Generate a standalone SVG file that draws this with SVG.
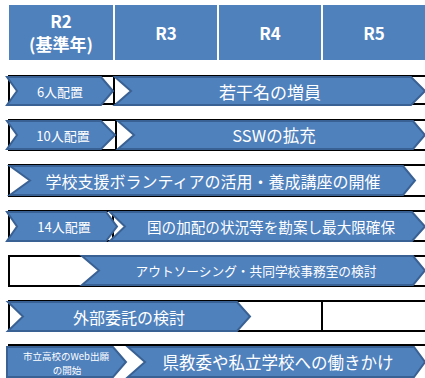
<svg xmlns="http://www.w3.org/2000/svg" width="425" height="378" viewBox="0 0 425 378">
<style>
.hd{fill:#4f81bd}
.ht{fill:#fff;font-family:"Noto Sans CJK JP","Liberation Sans",sans-serif;font-weight:bold;font-size:17px;text-anchor:middle}
.box{fill:#fff;stroke:#000;stroke-width:2}
.ch{fill:#4f81bd;stroke:#3a6193;stroke-width:2;stroke-linejoin:miter}
.t{fill:#fff;font-family:"Noto Sans CJK JP","Liberation Sans",sans-serif;text-anchor:middle;dominant-baseline:central}
.s{font-size:13px}
</style>
<rect width="425" height="378" fill="#fff"/>
<g id="header">
<rect class="hd" x="9" y="5" width="104" height="55"/>
<rect class="hd" x="115" y="5" width="102" height="55"/>
<rect class="hd" x="219" y="5" width="102" height="55"/>
<rect class="hd" x="323" y="5" width="102" height="55"/>
<text class="ht" x="61" y="28">R2</text>
<text class="ht" x="61" y="51">(基準年)</text>
<text class="ht" x="166" y="40">R3</text>
<text class="ht" x="270" y="40">R4</text>
<text class="ht" x="374" y="40">R5</text>
</g>
<g id="grid">
<rect class="box" x="9" y="76" width="105" height="28"/>
<rect class="box" x="114" y="76" width="313" height="28"/>
<rect class="box" x="9" y="120" width="107" height="30"/>
<rect class="box" x="116" y="120" width="311" height="30"/>
<rect class="box" x="9" y="165" width="418" height="31"/>
<rect class="box" x="9" y="211" width="104" height="30"/>
<rect class="box" x="113" y="211" width="314" height="30"/>
<rect class="box" x="9" y="256" width="418" height="30"/>
<rect class="box" x="9" y="301" width="313" height="30"/>
<rect class="box" x="322" y="301" width="105" height="30"/>
<rect class="box" x="9" y="345" width="418" height="40"/>
</g>
<g id="connectors"></g>
<g id="n1a"><path class="ch" d="M7,77 L101,77 L113,91 L101,105 L7,105 L17,91 Z"/><text class="t s" x="60" y="91">6人配置</text></g>
<g id="n1b"><path class="ch" d="M115,77 L411,77 L425,91 L411,105 L115,105 L131,91 Z"/><text class="t" x="270" y="91" font-size="17">若干名の増員</text></g>
<g id="n2a"><path class="ch" d="M7,121 L101,121 L115,135 L101,149 L7,149 L17,135 Z"/><text class="t s" x="63" y="135">10人配置</text></g>
<g id="n2b"><path class="ch" d="M118,121 L413,121 L425,135 L413,149 L118,149 L134,135 Z"/><text class="t" x="274" y="135" font-size="16.5">SSWの拡充</text></g>
<g id="n3"><path class="ch" d="M10,166 L403,166 L415,180.5 L403,195 L10,195 L30,180.5 Z"/><text class="t" x="213" y="180.5" font-size="16">学校支援ボランティアの活用・養成講座の開催</text></g>
<g id="n4a"><path class="ch" d="M7,212 L106,212 L117,226.5 L106,241 L7,241 L17,226.5 Z"/><text class="t s" x="64" y="226.5">14人配置</text></g>
<g id="n4b"><path class="ch" d="M110,212 L412,212 L425,226.5 L412,241 L110,241 L125,226.5 Z"/><text class="t" x="271" y="226.5" font-size="14.6">国の加配の状況等を勘案し最大限確保</text></g>
<g id="n5"><path class="ch" d="M82,256 L413,256 L425,270.5 L413,285 L82,285 L99,270.5 Z"/><text class="t" x="256" y="270.5" font-size="12.7">アウトソーシング・共同学校事務室の検討</text></g>
<g id="n6"><path class="ch" d="M8,302 L237,302 L250,316.5 L237,331 L8,331 L23,316.5 Z"/><text class="t" x="129" y="316.5" font-size="16">外部委託の検討</text></g>
<g id="n7a"><path class="ch" d="M7,347 L113,347 L126,362 L113,377 L7,377 Z"/><text class="t" x="66" y="355.5" font-size="9.5">市立高校のWeb出願</text><text class="t" x="67" y="370" font-size="9.5">の開始</text></g>
<g id="n7b"><path class="ch" d="M128,347 L414,347 L425,362 L414,377 L128,377 L145,362 Z"/><text class="t" x="278" y="362" font-size="16.5">県教委や私立学校への働きかけ</text></g>
</svg>
